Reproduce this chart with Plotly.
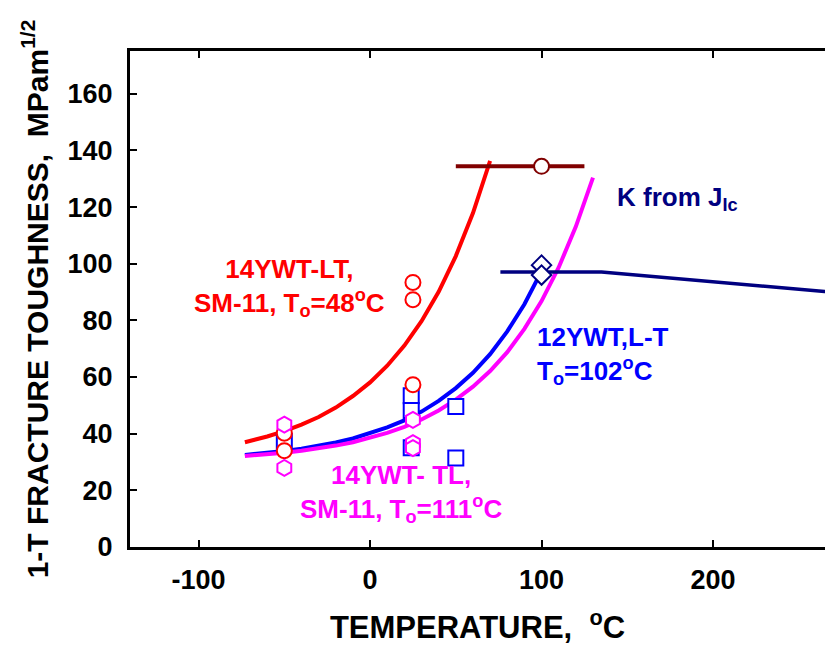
import plotly.graph_objects as go

# ---- data ----
# master curves (temperature in C, K in MPa m^1/2)
red_curve_T = [-73, -60, -50, -40, -30, -20, -10, 0, 10, 20, 30, 40, 50, 60, 70]
red_curve_K = [37.0, 39.0, 40.9, 43.2, 45.9, 49.2, 53.3, 58.1, 64.0, 71.1, 79.7, 90.1, 102.7, 117.9, 136.3]

blue_curve_T = [-73, -60, -50, -40, -30, -20, -10, 0, 10, 20, 30, 40, 50, 60, 70, 80, 90, 100]
blue_curve_K = [32.5, 33.2, 33.9, 34.7, 35.7, 36.9, 38.3, 40.1, 42.2, 44.7, 47.8, 51.6, 56.1, 61.5, 68.1, 76.1, 85.7, 97.4]

mag_curve_T = [-73, -60, -50, -40, -30, -20, -10, 0, 10, 20, 30, 40, 50, 60, 70, 80, 90, 100, 110, 120, 130]
mag_curve_K = [32.1, 32.7, 33.3, 34.0, 34.8, 35.8, 37.0, 38.5, 40.3, 42.4, 45.0, 48.2, 52.0, 56.6, 62.1, 68.8, 77.0, 86.8, 98.7, 113.1, 130.4]

jic_line_T = [76, 135, 265, 300]
jic_line_K = [97.1, 97.1, 90.2, 88.3]

# data points
red_T = [-50, -50, 25, 25, 25]
red_K = [40.2, 34.0, 93.4, 87.3, 57.3]

sq_T = [-50, 24, 24, 24, 50, 50]
sq_K = [37.3, 53.4, 48.2, 35.0, 49.6, 31.4]

hex_T = [-50, -50, 25, 25, 25]
hex_K = [43.2, 27.9, 44.9, 36.7, 34.9]

dia_T = [100, 100]
dia_K = [99.5, 96.0]

jic_pt_T = [100]
jic_pt_K = [134.4]
jic_bar_T = [50, 125]
jic_bar_K = [134.4, 134.4]

x_ticks = [-100, 0, 100, 200]
x_tick_labels = ["-100", "0", "100", "200"]
y_ticks = [0, 20, 40, 60, 80, 100, 120, 140, 160]
y_tick_labels = ["0", "20", "40", "60", "80", "100", "120", "140", "160"]

RED = "#FF0000"
BLUE = "#0000FF"
MAG = "#FF00FF"
NAVY = "#000080"
MAROON = "#800000"
FONT = "Liberation Sans, Arial, sans-serif"

fig = go.Figure()
fig.add_trace(go.Scatter(x=red_curve_T, y=red_curve_K, mode="lines", line=dict(color=RED, width=4)))
fig.add_trace(go.Scatter(x=blue_curve_T, y=blue_curve_K, mode="lines", line=dict(color=BLUE, width=4)))
fig.add_trace(go.Scatter(x=mag_curve_T, y=mag_curve_K, mode="lines", line=dict(color=MAG, width=4)))
fig.add_trace(go.Scatter(x=jic_line_T, y=jic_line_K, mode="lines", line=dict(color=NAVY, width=3.5)))
fig.add_trace(go.Scatter(x=jic_bar_T, y=jic_bar_K, mode="lines", line=dict(color=MAROON, width=4)))

fig.add_trace(go.Scatter(x=sq_T, y=sq_K, mode="markers",
                         marker=dict(symbol="square", size=15, color="white", line=dict(color=BLUE, width=2))))
fig.add_trace(go.Scatter(x=red_T, y=red_K, mode="markers",
                         marker=dict(symbol="circle", size=15, color="white", line=dict(color=RED, width=2))))
fig.add_trace(go.Scatter(x=hex_T, y=hex_K, mode="markers",
                         marker=dict(symbol="hexagon", size=16, color="white", line=dict(color=MAG, width=2))))
fig.add_trace(go.Scatter(x=dia_T, y=dia_K, mode="markers",
                         marker=dict(symbol="diamond", size=15, color="white", line=dict(color=NAVY, width=2))))
fig.add_trace(go.Scatter(x=jic_pt_T, y=jic_pt_K, mode="markers",
                         marker=dict(symbol="circle", size=15, color="white", line=dict(color=MAROON, width=2))))

ann_font = dict(family=FONT, size=26, weight="bold")
fig.add_annotation(x=-47, y=91.5, xref="x", yref="y", showarrow=False, align="center",
                   xanchor="center", yanchor="middle",
                   text="14YWT-LT,<br>SM-11, T<sub>o</sub>=48<sup>o</sup>C",
                   font=dict(ann_font, color=RED))
fig.add_annotation(x=96, y=67.5, xref="x", yref="y", showarrow=False, align="left",
                   xanchor="left", yanchor="middle",
                   text="12YWT,L-T<br>T<sub>o</sub>=102<sup>o</sup>C",
                   font=dict(ann_font, color=BLUE))
fig.add_annotation(x=18, y=19.0, xref="x", yref="y", showarrow=False, align="center",
                   xanchor="center", yanchor="middle",
                   text="14YWT- TL,<br>SM-11, T<sub>o</sub>=111<sup>o</sup>C",
                   font=dict(ann_font, color=MAG))
fig.add_annotation(x=143, y=123, xref="x", yref="y", showarrow=False, align="left",
                   xanchor="left", yanchor="middle",
                   text="K from J<sub>Ic</sub>",
                   font=dict(ann_font, color=NAVY))

axis_common = dict(showgrid=False, zeroline=False, showline=True, linecolor="black", linewidth=3,
                   ticks="inside", ticklen=7, tickwidth=2, tickcolor="black",
                   tickfont=dict(family=FONT, size=27, color="black", weight="bold"))

fig.update_xaxes(range=[-140, 265.3], tickvals=x_ticks, ticktext=x_tick_labels, mirror="ticks",
                 ticklabelstandoff=7,
                 title=dict(text="TEMPERATURE,  <sup>o</sup>C", standoff=22,
                            font=dict(family=FONT, size=31, color="black", weight="bold")),
                 **axis_common)
fig.update_yaxes(range=[0, 175.1], tickvals=y_ticks, ticktext=y_tick_labels, ticklabelstandoff=9,
                 title=dict(text="1-T FRACTURE TOUGHNESS,  MPam<sup>1/2</sup>", standoff=11,
                            font=dict(family=FONT, size=30, color="black", weight="bold")),
                 **axis_common)

fig.update_layout(width=825, height=649, margin=dict(l=130, r=0, t=51, b=102),
                  paper_bgcolor="white", plot_bgcolor="white", showlegend=False,
                  font=dict(family=FONT, weight="bold"))

fig.write_html("out.html")
